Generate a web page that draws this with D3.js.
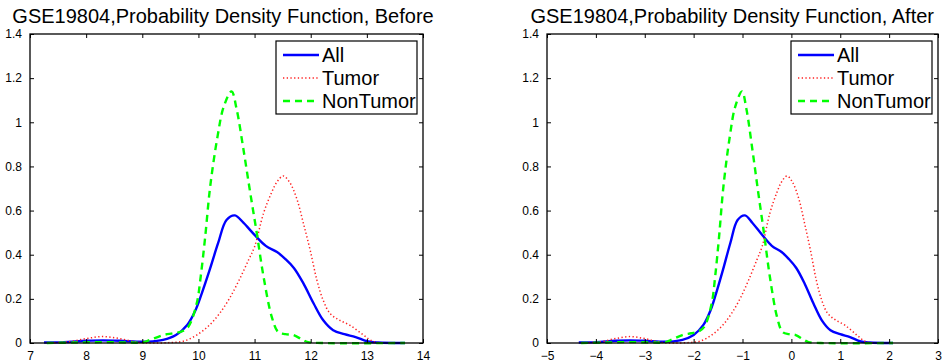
<!DOCTYPE html>
<html>
<head>
<meta charset="utf-8">
<script src="https://cdn.jsdelivr.net/npm/d3@7"></script>
<style>
  html, body { margin: 0; padding: 0; background: #fff; }
  svg { display: block; }
  text { font-family: "Liberation Sans", Arial, Helvetica, sans-serif; fill: #000; }
</style>
</head>
<body>
<svg id="chart" width="945" height="364"></svg>
<script>
// ---------- Data ----------
const seriesNames = ["All", "Tumor", "NonTumor"];
const yTicks = [0, 0.2, 0.4, 0.6, 0.8, 1, 1.2, 1.4];
const xTicksBefore = [7, 8, 9, 10, 11, 12, 13, 14];
const xTicksAfter = [-5, -4, -3, -2, -1, 0, 1, 2, 3];
const titleBefore = "GSE19804,Probability Density Function, Before";
const titleAfter = "GSE19804,Probability Density Function, After";

// density values (y) shared by both panels
const allY = [0.002, 0.004, 0.010, 0.012, 0.010, 0.006, 0.006, 0.014, 0.036, 0.082, 0.15, 0.225, 0.331, 0.452, 0.557, 0.578, 0.545, 0.49, 0.44, 0.412, 0.38, 0.34, 0.27, 0.18, 0.104, 0.058, 0.04, 0.027, 0.008, 0.002, 0.0];
const allXBefore = [7.25, 7.6, 8.0, 8.3, 8.6, 8.9, 9.1, 9.37, 9.6, 9.8, 9.95, 10.06, 10.2, 10.35, 10.5, 10.65, 10.8, 11.0, 11.2, 11.4, 11.55, 11.7, 11.87, 12.05, 12.22, 12.4, 12.6, 12.8, 13.0, 13.2, 13.68];
const allXAfter = [-4.35, -4.0, -3.6, -3.3, -3.0, -2.7, -2.5, -2.23, -2.0, -1.8, -1.65, -1.54, -1.4, -1.25, -1.1, -0.95, -0.8, -0.6, -0.4, -0.2, -0.05, 0.1, 0.27, 0.45, 0.62, 0.8, 1.0, 1.2, 1.4, 1.6, 2.08];

const tumorY = [0.0, 0.006, 0.02, 0.029, 0.02, 0.004, 0.0, 0.002, 0.008, 0.036, 0.082, 0.135, 0.205, 0.293, 0.38, 0.436, 0.588, 0.68, 0.73, 0.757, 0.73, 0.655, 0.542, 0.421, 0.285, 0.195, 0.135, 0.105, 0.08, 0.036, 0.006, 0.0];
const tumorXBefore = [7.3, 7.7, 8.0, 8.3, 8.6, 8.9, 9.2, 9.5, 9.73, 9.97, 10.2, 10.38, 10.56, 10.74, 10.9, 11.0, 11.16, 11.3, 11.4, 11.51, 11.62, 11.75, 11.87, 11.99, 12.11, 12.22, 12.34, 12.5, 12.7, 12.94, 13.12, 13.3];
const tumorXAfter = [-4.3, -3.9, -3.6, -3.3, -3.0, -2.7, -2.4, -2.1, -1.87, -1.63, -1.4, -1.22, -1.04, -0.86, -0.7, -0.6, -0.44, -0.3, -0.2, -0.09, 0.02, 0.15, 0.27, 0.39, 0.51, 0.62, 0.74, 0.9, 1.1, 1.34, 1.52, 1.7];

const nonTumorY = [0.0, 0.002, 0.004, 0.002, 0.002, 0.014, 0.036, 0.044, 0.052, 0.074, 0.18, 0.30, 0.48, 0.71, 0.935, 1.07, 1.14, 1.06, 0.88, 0.685, 0.497, 0.30, 0.115, 0.05, 0.04, 0.036, 0.015, 0.004, 0.0, 0.0];
const nonTumorXBefore = [7.3, 7.8, 8.3, 8.8, 9.0, 9.14, 9.37, 9.55, 9.7, 9.82, 9.97, 10.04, 10.12, 10.21, 10.34, 10.45, 10.59, 10.68, 10.8, 10.92, 11.04, 11.16, 11.31, 11.42, 11.55, 11.69, 11.85, 11.95, 12.2, 13.68];
const nonTumorXAfter = [-4.3, -3.8, -3.3, -2.8, -2.6, -2.46, -2.23, -2.05, -1.9, -1.78, -1.63, -1.56, -1.48, -1.39, -1.26, -1.15, -1.01, -0.92, -0.8, -0.68, -0.56, -0.44, -0.29, -0.18, -0.05, 0.09, 0.25, 0.35, 0.6, 2.08];

// ---------- Styles ----------
const styles = [
  { color: "#0000ff", width: 2.4, dash: null },
  { color: "#ff2020", width: 1.5, dash: "1.3,2.4" },
  { color: "#00ff00", width: 2.4, dash: "7,5" }
];

const svg = d3.select("#chart");

function zip(xs, ys) { return xs.map((x, i) => [x, ys[i]]); }

function drawPanel(opt) {
  const g = svg.append("g");
  const x = d3.scaleLinear().domain(opt.xDomain).range([opt.left, opt.right]);
  const y = d3.scaleLinear().domain([0, 1.4]).range([opt.bottom, opt.top]);

  g.append("rect").attr("x", opt.left).attr("y", opt.top)
    .attr("width", opt.right - opt.left).attr("height", opt.bottom - opt.top)
    .attr("fill", "#fff");

  const line = d3.line().x(d => x(d[0])).y(d => y(d[1])).curve(d3.curveCatmullRom.alpha(0.5));
  opt.series.forEach((s, i) => {
    g.append("path").datum(s)
      .attr("d", line)
      .attr("fill", "none")
      .attr("stroke", styles[i].color)
      .attr("stroke-width", styles[i].width)
      .attr("stroke-dasharray", styles[i].dash)
      .attr("stroke-linejoin", "round");
  });

  const tl = 4;
  const axB = d3.axisBottom(x).tickValues(opt.xTicks).tickSizeInner(-tl).tickSizeOuter(0).tickPadding(8).tickFormat(d => d < 0 ? "\u2212" + Math.abs(d) : d);
  const axT = d3.axisTop(x).tickValues(opt.xTicks).tickSizeInner(-tl).tickSizeOuter(0).tickFormat("");
  const axL = d3.axisLeft(y).tickValues(yTicks).tickSizeInner(-tl).tickSizeOuter(0).tickPadding(8).tickFormat(d => d);
  const axR = d3.axisRight(y).tickValues(yTicks).tickSizeInner(-tl).tickSizeOuter(0).tickFormat("");

  const gb = g.append("g").attr("transform", `translate(0,${opt.bottom})`).call(axB);
  const gt = g.append("g").attr("transform", `translate(0,${opt.top})`).call(axT);
  const gl = g.append("g").attr("transform", `translate(${opt.left},0)`).call(axL);
  const gr = g.append("g").attr("transform", `translate(${opt.right},0)`).call(axR);
  [gb, gt, gl, gr].forEach(a => {
    a.select(".domain").remove();
    a.selectAll(".tick line").attr("stroke", "#000").attr("stroke-width", 1);
    a.selectAll("text").style("font-family", "'Liberation Sans', Arial, sans-serif").style("font-size", "12px").attr("fill", "#000");
  });
  gb.selectAll("text").attr("dy", "0.71em");
  g.append("rect").attr("x", opt.left).attr("y", opt.top)
    .attr("width", opt.right - opt.left).attr("height", opt.bottom - opt.top)
    .attr("fill", "none").attr("stroke", "#000").attr("stroke-width", 1.3);

  g.append("text").attr("x", opt.titleX).attr("y", 23)
    .attr("text-anchor", opt.titleAnchor)
    .style("font-size", "20px").text(opt.title);

  const lw = 141, lh = 73;
  const lx = opt.right - 6 - lw, ly = opt.top + 7;
  const lg = g.append("g").attr("transform", `translate(${lx},${ly})`);
  lg.append("rect").attr("width", lw).attr("height", lh).attr("fill", "#fff").attr("stroke", "#000").attr("stroke-width", 1.2);
  seriesNames.forEach((name, i) => {
    const yy = 14 + i * 23;
    lg.append("line").attr("x1", 7).attr("x2", 43).attr("y1", yy).attr("y2", yy)
      .attr("stroke", styles[i].color).attr("stroke-width", styles[i].width)
      .attr("stroke-dasharray", styles[i].dash);
    lg.append("text").attr("x", 46).attr("y", yy).attr("dy", "0.36em")
      .style("font-size", "20px").text(name);
  });
}

drawPanel({
  left: 30, right: 423, top: 34, bottom: 343,
  xDomain: [7, 14], xTicks: xTicksBefore,
  series: [zip(allXBefore, allY), zip(tumorXBefore, tumorY), zip(nonTumorXBefore, nonTumorY)],
  title: titleBefore, titleX: 223, titleAnchor: "middle"
});
drawPanel({
  left: 547, right: 938, top: 34, bottom: 343,
  xDomain: [-5, 3], xTicks: xTicksAfter,
  series: [zip(allXAfter, allY), zip(tumorXAfter, tumorY), zip(nonTumorXAfter, nonTumorY)],
  title: titleAfter, titleX: 934, titleAnchor: "end"
});
</script>
</body>
</html>
